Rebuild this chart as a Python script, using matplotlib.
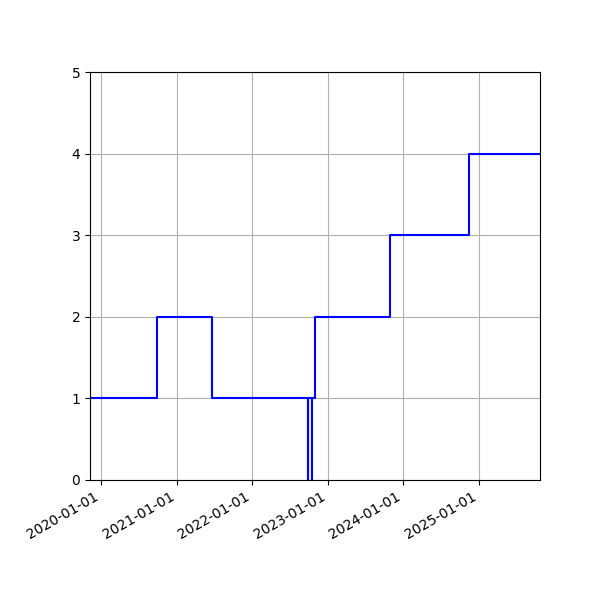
import matplotlib
matplotlib.use("Agg")
import matplotlib.pyplot as plt
import matplotlib.dates as mdates
import pandas as pd

# --- Data ---------------------------------------------------------------------
# dates where the value changes, and the value that holds from then on
change_dates = [
    "2019-11-10", "2020-09-28", "2021-06-19",
    "2022-09-26", "2022-09-27", "2022-10-16", "2022-10-17",
    "2022-10-31", "2023-10-31", "2024-11-13", "2025-10-23",
]
values = [1, 2, 1, 0, 1, 0, 1, 2, 3, 4, 4]

dates = pd.to_datetime(change_dates)

# --- Plot ---------------------------------------------------------------------
fig, ax = plt.subplots(figsize=(6, 6), dpi=100)
ax.step(dates, values, where="post", color="blue", linewidth=1.5)
ax.set_xlim(dates[0], dates[-1])
ax.set_ylim(0, 5)
ax.xaxis.set_major_locator(mdates.YearLocator())
ax.xaxis.set_major_formatter(mdates.DateFormatter("%Y-%m-%d"))
ax.grid(True)
fig.autofmt_xdate()
fig.subplots_adjust(left=0.15, right=0.9, top=0.88, bottom=0.2)
plt.savefig("out.png", dpi=100)
plt.close()
